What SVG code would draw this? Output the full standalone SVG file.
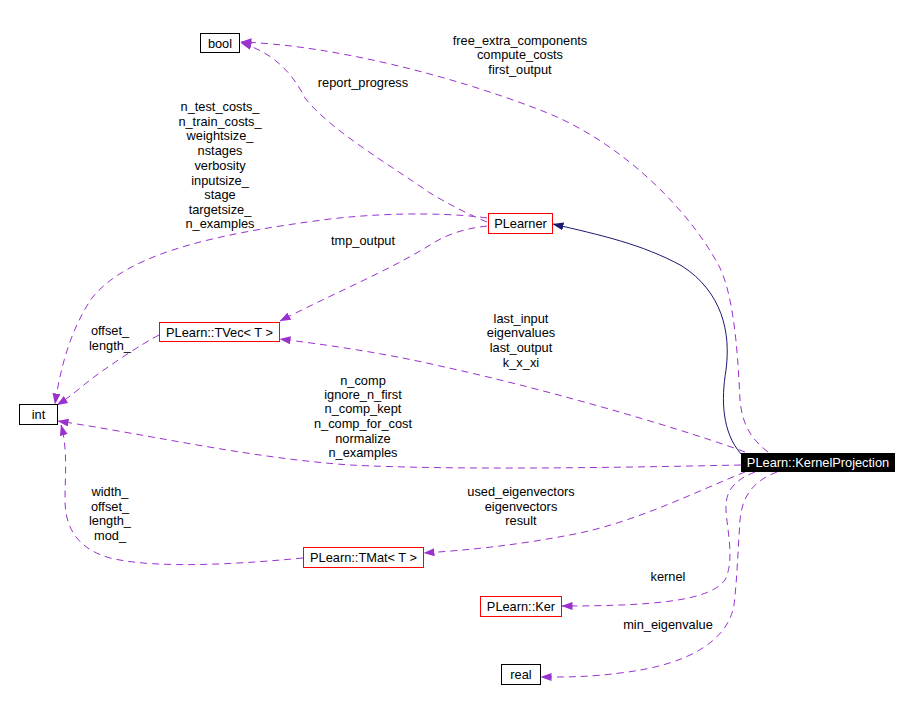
<svg xmlns="http://www.w3.org/2000/svg" width="910" height="704" viewBox="0 0 910 704">
<defs>
<marker id="ap" markerWidth="11" markerHeight="8" refX="10.5" refY="4" orient="auto" markerUnits="userSpaceOnUse"><path d="M0,0 L11,4 L0,8 z" fill="#9a32cd"/></marker>
<marker id="an" markerWidth="11" markerHeight="8" refX="10.5" refY="4" orient="auto" markerUnits="userSpaceOnUse"><path d="M0,0 L11,4 L0,8 z" fill="#191970"/></marker>
</defs>
<style>
text{font-family:"Liberation Sans",Arial,sans-serif;font-size:12.8px;fill:#000;text-anchor:middle}
.box{fill:#fff;stroke:#000;stroke-width:1}
.red{fill:#fff;stroke:#ff0000;stroke-width:1}
.e{fill:none;stroke:#9a32cd;stroke-width:1;stroke-dasharray:7,5;marker-end:url(#ap)}
.inh{fill:none;stroke:#191970;stroke-width:1;marker-end:url(#an)}
</style>
<rect width="910" height="704" fill="#fff"/>
<g id="connectors">
<path class="inh" d="M741,454 C722,432 721,400 726,370 C731,332 722,292 682,266 C642,244 600,235 553,224"/>
<path class="e" d="M768,452 C752,440 742,425 740,400 C738,360 735,300 720,268 C690,210 620,140 540,110 C450,75 330,45 241,42"/>
<path class="e" d="M487,222 C470,215 450,205 430,193 C390,165 330,130 305,98 C292,72 272,52 241,43"/>
<path class="e" d="M487,218 C460,214 400,211 330,219 C230,232 130,250 92,298 C70,330 60,370 55,404"/>
<path class="e" d="M487,226 C470,228 450,232 430,245 C390,270 330,295 280,321"/>
<path class="e" d="M159,335 C140,345 110,365 90,380 C80,388 70,397 57,405"/>
<path class="e" d="M745,452 C700,435 560,392 440,366 C380,352 320,344 280,339"/>
<path class="e" d="M741,465 C600,468 450,470 350,465 C250,458 150,435 58,421"/>
<path class="e" d="M745,472 C700,490 640,520 580,533 C520,545 470,550 424,553"/>
<path class="e" d="M303,558 C250,563 160,570 110,558 C75,548 65,525 65,500 C65,475 68,450 61,425"/>
<path class="e" d="M755,472 C735,480 725,490 726,510 C727,530 735,560 725,580 C710,600 660,606 562,606"/>
<path class="e" d="M777,472 C755,480 742,495 740,520 C738,550 737,580 734,605 C728,640 690,665 620,673 C590,677 570,677 541,677"/>
</g>
<g id="labels">
<text x="520" y="44.5">free_extra_components</text>
<text x="520" y="59">compute_costs</text>
<text x="520" y="73.5">first_output</text>
<text x="363" y="87">report_progress</text>
<text x="220" y="111">n_test_costs_</text>
<text x="220" y="125.5">n_train_costs_</text>
<text x="220" y="140">weightsize_</text>
<text x="220" y="155">nstages</text>
<text x="220" y="169.5">verbosity</text>
<text x="220" y="184.5">inputsize_</text>
<text x="220" y="199">stage</text>
<text x="220" y="213.5">targetsize_</text>
<text x="220" y="228">n_examples</text>
<text x="363" y="245">tmp_output</text>
<text x="110" y="335">offset_</text>
<text x="110" y="349.5">length_</text>
<text x="521" y="322.5">last_input</text>
<text x="521" y="337">eigenvalues</text>
<text x="521" y="352">last_output</text>
<text x="521" y="367">k_x_xi</text>
<text x="363" y="384.5">n_comp</text>
<text x="363" y="399">ignore_n_first</text>
<text x="363" y="413">n_comp_kept</text>
<text x="363" y="427.5">n_comp_for_cost</text>
<text x="363" y="442.5">normalize</text>
<text x="363" y="457">n_examples</text>
<text x="521" y="496">used_eigenvectors</text>
<text x="521" y="511">eigenvectors</text>
<text x="521" y="525">result</text>
<text x="110" y="496">width_</text>
<text x="110" y="510.5">offset_</text>
<text x="110" y="525">length_</text>
<text x="110" y="540">mod_</text>
<text x="668" y="581">kernel</text>
<text x="668" y="628.5">min_eigenvalue</text>
</g>
<g id="node-bool"><rect class="box" x="200.5" y="33.5" width="39" height="19"/><text x="220" y="47.5">bool</text></g>
<g id="node-plearner"><rect class="red" x="488.5" y="213.5" width="64" height="20"/><text x="520.5" y="228">PLearner</text></g>
<g id="node-tvec"><rect class="red" x="159.5" y="322.5" width="120" height="19"/><text x="219.5" y="336.5">PLearn::TVec&lt; T &gt;</text></g>
<g id="node-int"><rect class="box" x="19.5" y="404.5" width="38" height="20"/><text x="38.5" y="419">int</text></g>
<g id="node-kernelprojection"><rect x="741" y="453" width="154" height="19" fill="#000"/><text x="818" y="467" style="fill:#fff">PLearn::KernelProjection</text></g>
<g id="node-tmat"><rect class="red" x="303.5" y="547.5" width="120" height="20"/><text x="363.5" y="562">PLearn::TMat&lt; T &gt;</text></g>
<g id="node-ker"><rect class="red" x="480.5" y="596.5" width="81" height="20"/><text x="521" y="611">PLearn::Ker</text></g>
<g id="node-real"><rect class="box" x="501.5" y="664.5" width="39" height="20"/><text x="521" y="679">real</text></g>
</svg>
